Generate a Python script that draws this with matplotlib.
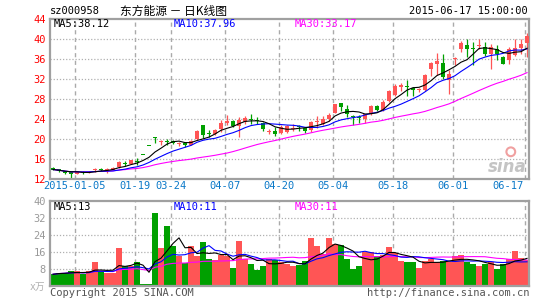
import matplotlib
matplotlib.use('Agg')
import matplotlib.pyplot as plt
import pandas as pd

plt.rcParams['font.family'] = ['DejaVu Sans Mono', 'Noto Sans CJK SC']

# daily candles, 2014-12-30 .. 2015-06-17
opens = [14.3, 14.0, 13.6, 13.4, 13.1, 13.5, 13.3, 13.8, 14.0, 13.8,
         13.9, 14.4, 15.2, 15.1, 15.7, 16.9, 18.6, 20.45, 19.45, 19.7,
         19.6, 19.0, 19.2, 18.9, 20.1, 22.8, 21.2, 21.0, 22.0, 23.3,
         23.6, 22.7, 23.5, 24.0, 23.9, 23.3, 21.4, 21.7, 21.2, 21.5,
         22.0, 22.6, 22.2, 21.8, 23.5, 23.0, 24.0, 25.3, 27.1, 26.1,
         24.6, 24.5, 24.1, 25.0, 26.7, 25.9, 27.6, 28.9, 30.5, 30.7,
         30.2, 29.8, 29.8, 34.0, 35.0, 35.1, 31.8, 36.1, 38.0, 38.9,
         38.2, 38.6, 38.5, 37.1, 38.0, 36.5, 35.8, 36.9, 38.2, 39.2]
highs = [14.4, 14.1, 13.7, 13.4, 13.6, 13.7, 13.6, 14.3, 14.2, 14.2,
         14.4, 15.7, 15.6, 15.9, 16.2, 16.9, 18.6, 20.45, 19.8, 20.0,
         19.8, 19.4, 19.3, 19.9, 21.8, 22.9, 21.8, 22.1, 23.8, 24.8,
         23.8, 24.5, 24.6, 25.1, 24.5, 23.5, 22.1, 22.5, 22.8, 22.9,
         23.1, 22.9, 22.3, 23.6, 24.6, 24.7, 25.3, 27.1, 27.3, 26.9,
         24.9, 24.9, 25.1, 26.8, 26.9, 27.8, 29.9, 31.1, 31.3, 31.8,
         30.5, 30.2, 33.0, 35.4, 37.2, 37.0, 33.8, 36.4, 39.6, 40.0,
         39.5, 40.0, 39.4, 39.0, 38.8, 36.6, 38.4, 40.0, 40.0, 41.3]
lows = [13.8, 13.4, 13.1, 12.1, 13.0, 13.0, 13.2, 13.5, 13.7, 13.2,
        13.8, 14.3, 14.7, 15.0, 14.9, 16.9, 18.6, 19.3, 18.9, 18.8,
        19.0, 18.7, 18.5, 18.8, 19.9, 20.2, 20.5, 20.8, 21.5, 22.9,
        22.5, 20.5, 23.1, 23.1, 23.1, 21.6, 21.0, 20.7, 21.0, 21.2,
        21.6, 21.7, 21.3, 21.4, 22.2, 22.9, 23.6, 25.2, 25.6, 24.5,
        22.9, 23.3, 23.3, 24.9, 25.6, 25.6, 27.4, 28.7, 29.6, 28.7,
        28.7, 29.4, 29.6, 32.6, 32.8, 32.1, 29.1, 34.9, 37.5, 36.5,
        34.8, 38.0, 36.7, 34.0, 35.8, 35.0, 35.1, 36.6, 37.0, 36.5]
closes = [13.9, 13.6, 13.2, 13.1, 13.4, 13.3, 13.5, 13.9, 13.9, 13.9,
          14.3, 15.4, 15.0, 15.8, 15.4, 16.9, 18.6, 20.3, 19.6, 19.5,
          19.3, 19.2, 18.8, 19.6, 21.6, 20.9, 21.0, 21.9, 23.3, 23.6,
          22.7, 23.8, 24.2, 23.8, 23.7, 22.0, 21.6, 21.1, 22.4, 22.6,
          22.2, 22.4, 21.6, 23.5, 23.7, 24.0, 24.8, 27.0, 26.4, 25.0,
          24.4, 24.2, 25.0, 26.7, 25.9, 27.5, 29.6, 30.6, 30.8, 30.4,
          29.9, 30.0, 32.9, 35.1, 35.6, 32.5, 33.1, 36.3, 39.3, 38.1,
          38.0, 38.8, 37.0, 38.5, 37.1, 35.1, 37.9, 38.2, 39.0, 40.6]
# volume, 万手
volumes = [5.3, 6.0, 6.0, 6.7, 6.7, 5.3, 6.7, 11.0, 7.0, 5.8,
           5.8, 17.6, 9.0, 9.4, 11.3, 0.8, 0.8, 34.2, 17.6, 28.4,
           18.5, 14.1, 10.7, 18.5, 13.8, 20.4, 12.5, 11.9, 14.6, 13.8,
           8.3, 21.0, 12.7, 10.0, 7.2, 9.1, 12.7, 12.2, 11.1, 10.0,
           9.1, 9.6, 11.5, 22.4, 18.5, 14.7, 22.7, 19.8, 19.0, 12.4,
           7.7, 9.1, 15.8, 15.8, 14.1, 14.6, 18.0, 15.4, 11.5, 11.1,
           11.1, 8.3, 11.5, 12.7, 11.1, 11.5, 11.1, 13.8, 14.3, 11.3,
           10.0, 9.1, 10.0, 11.1, 7.7, 10.4, 12.7, 16.2, 13.0, 11.9]

tick_idx = [4, 14, 20, 29, 38, 47, 57, 67, 79]
tick_labels = ['2015-01-05', '01-19', '03-24', '04-07', '04-20',
               '05-04', '05-18', '06-01', '06-17']
price_ticks = [12, 16, 20, 24, 28, 32, 36, 40, 44]
vol_ticks = [8, 16, 24, 32, 40]

RED = '#ff5555'
GREEN = '#00a000'
FRAME = '#a0a0a0'
W, H = 545, 300

df = pd.DataFrame({'o': opens, 'h': highs, 'l': lows, 'c': closes, 'v': volumes})
n = len(df)
x = list(range(n))
cols = [RED if c > o else GREEN for o, c in zip(df.o, df.c)]

fig = plt.figure(figsize=(W / 100, H / 100), dpi=100)


def px_axes(left, top, right, bottom):
    return fig.add_axes([left / W, 1 - bottom / H, (right - left) / W, (bottom - top) / H])


ax = px_axes(50, 19, 529, 179)
axv = px_axes(50, 201, 529, 285.5)

for a in (ax, axv):
    a.set_xlim(-0.5, 79.33)
    for s in a.spines.values():
        s.set_color(FRAME)
        s.set_linewidth(1.6)
    for t in tick_idx:
        a.axvline(t - 0.4, color='#aaaaaa', lw=1.0, ls=(0, (3, 2.5)), zorder=0)
    a.tick_params(length=0, pad=3)

# price panel
ax.set_ylim(12, 44)
ax.set_yticks(price_ticks)
ax.set_yticklabels([str(v) for v in price_ticks], color='#ff0000', fontsize=7.5)
for v in price_ticks[1:-1]:
    ax.axhline(v, color='#b0b0b0', lw=0.9, ls=(0, (1, 1.5)), zorder=0)
ax.set_xticks([])

ax.vlines(x, df.l, df.h, colors=cols, lw=0.9, zorder=2)
body = [max(abs(c - o), 0.12) for o, c in zip(df.o, df.c)]
ax.bar(x, body, bottom=[min(o, c) for o, c in zip(df.o, df.c)], width=0.75,
       color=cols, zorder=3)

ma5 = df.c.rolling(5, min_periods=1).mean()
ma10 = df.c.rolling(10, min_periods=1).mean()
ma30 = df.c.rolling(30, min_periods=1).mean()
ax.plot(x, ma30, color='#ff00ff', lw=0.8, zorder=4)
ax.plot(x, ma10, color='#0000ff', lw=0.8, zorder=4)
ax.plot(x, ma5, color='#000000', lw=0.8, zorder=4)

# sina watermark (logo eye as a marker, wordmark as text)
ax.scatter([0.962], [0.17], s=40, facecolors='none', edgecolors='#f0a0a0',
           linewidths=1.5, transform=ax.transAxes, zorder=1)
ax.text(0.995, 0.02, 'sina', transform=ax.transAxes, fontsize=12,
        color='#c4c4c4', ha='right', va='bottom', family='DejaVu Sans',
        fontweight='bold', fontstyle='italic', zorder=1)

# volume panel
axv.set_ylim(0, 40)
axv.set_yticks(vol_ticks)
axv.set_yticklabels([str(v) for v in vol_ticks], color='#999999', fontsize=7.5)
for v in vol_ticks[:-1]:
    axv.axhline(v, color='#b0b0b0', lw=0.9, ls=(0, (1, 1.5)), zorder=0)
axv.set_xticks([])
axv.bar(x, df.v, width=0.85, color=cols, zorder=2)
axv.plot(x, df.v.rolling(30, min_periods=1).mean(), color='#ff00ff', lw=0.8, zorder=3)
axv.plot(x, df.v.rolling(10, min_periods=1).mean(), color='#0000ff', lw=0.8, zorder=3)
axv.plot(x, df.v.rolling(5, min_periods=1).mean(), color='#000000', lw=0.8, zorder=3)

# date labels under the price panel
for k, (t, lab) in enumerate(zip(tick_idx, tick_labels)):
    xp = 53 + 6 * (t - 0.4)
    ha = 'center'
    if k == len(tick_idx) - 1:
        xp, ha = 524, 'right'
    fig.text(xp / W, 1 - 186 / H, lab, color='#0a78c8', fontsize=7.5,
             ha=ha, va='center')


def ftext(xp, yp, s, **kw):
    fig.text(xp / W, 1 - yp / H, s, va='center', **kw)


ftext(50, 11, 'sz000958', fontsize=7.5, color='#000000')
ftext(120, 11, '东方能源 － 日K线图', fontsize=8.5, color='#000000',
      family=['Noto Sans CJK SC', 'DejaVu Sans'])
ftext(528, 11, '2015-06-17 15:00:00', fontsize=7.5, color='#000000', ha='right')

ftext(54, 24, 'MA5:38.12', fontsize=7.5, color='#000000')
ftext(174, 24, 'MA10:37.96', fontsize=7.5, color='#0000ff')
ftext(295, 24, 'MA30:33.17', fontsize=7.5, color='#ff00ff')

ftext(54, 207, 'MA5:13', fontsize=7.5, color='#000000')
ftext(174, 207, 'MA10:11', fontsize=7.5, color='#0000ff')
ftext(295, 207, 'MA30:11', fontsize=7.5, color='#ff00ff')

ftext(30, 287, 'x万', fontsize=7, color='#b0b0b0',
      family=['DejaVu Sans Mono', 'Noto Sans CJK SC'])
ftext(50, 293, 'Copyright 2015 SINA.COM', fontsize=7.5, color='#555555')
ftext(529, 293, 'http://finance.sina.com.cn', fontsize=7.5, color='#555555', ha='right')

fig.savefig('out.png', dpi=100)
